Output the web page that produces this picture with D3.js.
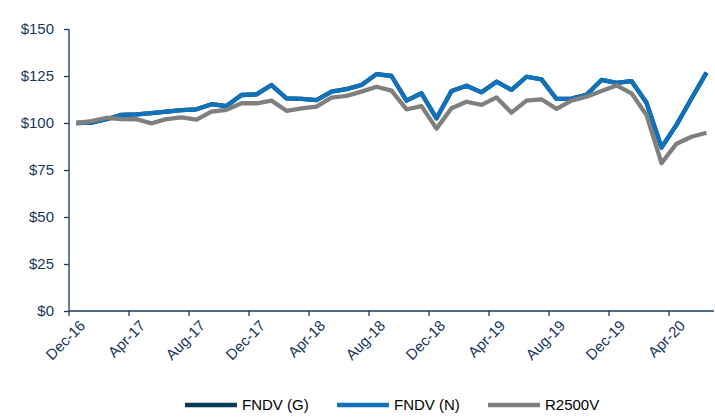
<!DOCTYPE html>
<html><head><meta charset="utf-8">
<script src="https://cdn.jsdelivr.net/npm/d3@7"></script>
<style>body{margin:0;background:#fff}svg{display:block;font-family:"Liberation Sans",Arial,sans-serif}</style>
</head><body><svg id="c" width="715" height="417"></svg>
<script>
const months = ["Dec-16","Jan-17","Feb-17","Mar-17","Apr-17","May-17","Jun-17","Jul-17","Aug-17","Sep-17","Oct-17","Nov-17",
"Dec-17","Jan-18","Feb-18","Mar-18","Apr-18","May-18","Jun-18","Jul-18","Aug-18","Sep-18","Oct-18","Nov-18",
"Dec-18","Jan-19","Feb-19","Mar-19","Apr-19","May-19","Jun-19","Jul-19","Aug-19","Sep-19","Oct-19","Nov-19",
"Dec-19","Jan-20","Feb-20","Mar-20","Apr-20","May-20","Jun-20"];
const fndvG = [100,100.2,102,104.3,104.6,105.2,106,106.9,107.3,110,109,114.9,115.2,120.2,113.1,112.8,112.2,116.7,118,120.2,126,125,111.9,115.8,102.5,117,119.8,116.3,122,117.6,124.6,123.2,112.8,113,115,122.9,121.4,122.3,110.8,87,99,113,126.8];
const fndvN = [100,100.2,102,104.3,104.6,105.2,106,106.9,107.3,110,109,114.9,115.2,120.2,113.1,112.8,112.2,116.7,118,120.2,126,125,111.9,115.8,102.5,117,119.8,116.3,122,117.6,124.6,123.2,112.8,113,115,122.9,121.4,122.3,110.8,87,99,113,126.8];
const r2500v = [100,101,102.8,102.1,102,99.8,102.1,103,101.8,106,107,110.5,110.5,111.9,106.5,107.8,108.7,113.5,114.4,116.7,119.3,117.2,107.3,109,97,107.8,111.3,109.6,113.6,105.5,111.9,112.6,107.5,111.9,114,117,120,115.8,104.3,78.6,89,92.7,94.8];
const yTicks = [0,25,50,75,100,125,150];
const seriesNames = ["FNDV (G)","FNDV (N)","R2500V"];
const seriesColors = ["#0b3a5c","#0f72ba","#7f7f7f"];

const svg = d3.select("#c");
const axisColor = "#17375e", textColor = "#17375e";
const x = d3.scaleBand().domain(months).range([69, 714]).paddingInner(0).paddingOuter(0);
const y = d3.scaleLinear().domain([0,150]).range([311, 29]);

// y axis
const ya = svg.append("g").attr("transform","translate(69,0)")
  .call(d3.axisLeft(y).tickValues(yTicks).tickSize(5).tickPadding(10).tickFormat(d=>"$"+d));
ya.select(".domain").attr("stroke",axisColor).attr("stroke-width",1.3).attr("d","M0,29V311");
ya.selectAll(".tick line").attr("stroke",axisColor).attr("stroke-width",1.3);
ya.selectAll("text").attr("fill",textColor).attr("font-size",15).attr("font-family","Liberation Sans, Arial, sans-serif");

// x axis
const xa = svg.append("g").attr("transform","translate(0,311)");
xa.append("line").attr("x1",69).attr("x2",714).attr("y1",0).attr("y2",0).attr("stroke",axisColor).attr("stroke-width",1.3);
const labelled = months.filter((m,i)=>i%4===0);
xa.selectAll("line.tk").data(labelled).join("line").attr("class","tk")
  .attr("x1",d=>x(d)).attr("x2",d=>x(d)).attr("y1",0).attr("y2",5)
  .attr("stroke",axisColor).attr("stroke-width",1.3);
xa.selectAll("text").data(labelled).join("text")
  .attr("transform",d=>`translate(${x(d)+x.bandwidth()/2+6},${12}) rotate(-45)`)
  .attr("text-anchor","end").attr("dy","0.35em")
  .attr("fill",textColor).attr("font-size",15).text(d=>d);

// lines
const line = d3.line().x((d,i)=>x(months[i])+x.bandwidth()/2).y(d=>y(d));
[fndvG, fndvN, r2500v].forEach((s,k)=>{
  svg.append("path").datum(s).attr("d",line).attr("fill","none")
    .attr("stroke",seriesColors[k]).attr("stroke-width",4.3).attr("stroke-linejoin","round");
});

// legend
const legX = [185,337,488];
const lg = svg.append("g");
seriesNames.forEach((n,k)=>{
  lg.append("line").attr("x1",legX[k]).attr("x2",legX[k]+52).attr("y1",405).attr("y2",405)
    .attr("stroke",seriesColors[k]).attr("stroke-width",4.5);
  lg.append("text").attr("x",legX[k]+57).attr("y",405).attr("dy","0.35em")
    .attr("fill","#000").attr("font-size",15).text(n);
});
</script></body></html>
